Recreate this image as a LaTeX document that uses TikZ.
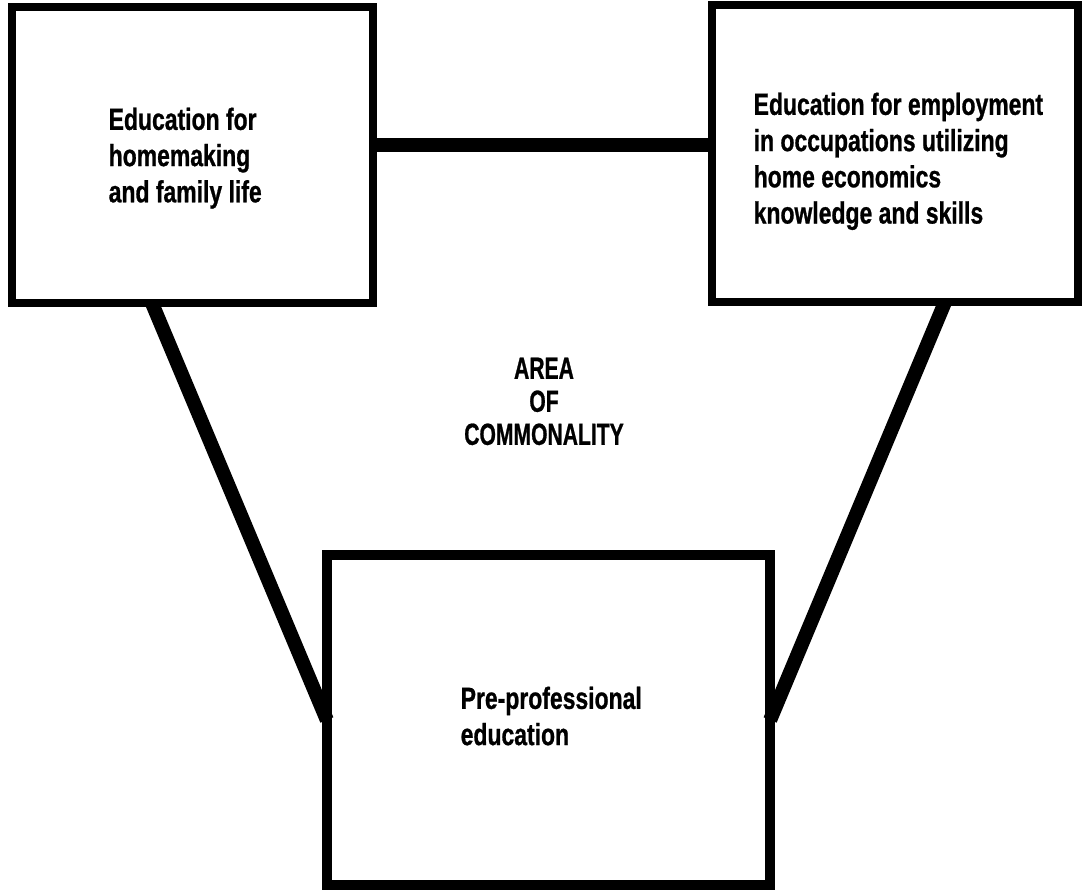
\documentclass[tikz,border=0pt]{standalone}
\usepackage{fontspec}
\newfontfamily\labelfont{Liberation Sans}[FakeStretch=0.75, FakeBold=0.8]
\newfontfamily\areafont{Liberation Sans}[FakeStretch=0.69, FakeBold=0.8]
\begin{document}
\begin{tikzpicture}[x=0.01cm, y=-0.01cm, line join=miter,
  areabox/.style={draw, line width=2.3pt, inner sep=0pt, outer sep=0pt},
  boxtext/.style={anchor=north west, inner sep=0pt, align=left,
    font=\labelfont\bfseries\fontsize{8.7}{10.3}\selectfont},
  link/.style={line width=4pt}]
\useasboundingbox (0,0) rectangle (1090,891);
\node[areabox, minimum width=3.61cm, minimum height=2.96cm] (home) at (192.5,155) {};
\node[areabox, minimum width=3.66cm, minimum height=2.97cm] (work) at (895,153.5) {};
\node[areabox, line width=2.8pt, minimum width=4.43cm, minimum height=3.3cm] (pre) at (548.5,720) {};
\node[boxtext] (hometext) at (108,107) {Education for\\homemaking\\and family life};
\node[boxtext] (worktext) at (753,92) {Education for employment\\in occupations utilizing\\home economics\\knowledge and skills};
\node[boxtext] (pretext) at (460,686) {Pre-professional\\education};
\node[boxtext, anchor=north, align=center,
  font=\areafont\bfseries\fontsize{8.7}{9.4}\selectfont] (area) at (544,357) {AREA\\OF\\COMMONALITY};
\draw[link] ([yshift=1mm]home.east) -- ([yshift=1mm]home.east -| work.west);
\draw[link] ([xshift=1.4cm]home.south west) -- (pre.west);
\draw[link] ([xshift=2.33cm]work.south west) -- (pre.east);
\end{tikzpicture}
\end{document}
